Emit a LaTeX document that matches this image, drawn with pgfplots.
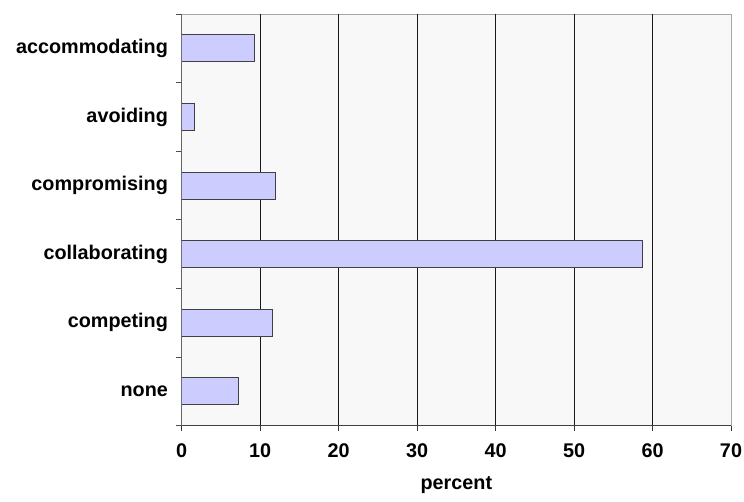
\documentclass[border=0pt]{standalone}
\usepackage{fontspec}
\setmainfont{Liberation Sans}
\usepackage{pgfplots}
\pgfplotsset{compat=1.18}
\definecolor{barfill}{HTML}{CCCCFF}
\definecolor{bgc}{HTML}{F8F8F8}
\begin{document}
\fontsize{19.8}{23}\selectfont
\begin{tikzpicture}
\useasboundingbox (-181.7pt,-75.3pt) rectangle (562.3pt,425.7pt);
\begin{axis}[
  at={(0,0)}, anchor=south west, scale only axis,
  width=549.3pt, height=411.7pt,
  xbar, bar width=27pt,
  enlargelimits=false,
  xmin=0, xmax=70, ymin=-0.5, ymax=5.5,
  xtick={0,10,...,70},
  minor xtick={10,20,...,60},
  xminorgrids,
  minor x grid style={black!90, line width=0.9pt},
  minor x tick style={draw=none},
  ytick={0,...,5},
  yticklabels={none,competing,collaborating,compromising,avoiding,accommodating},
  minor ytick={-0.5,0.5,...,5.5},
  major y tick style={draw=none},
  minor y tick style={black!70, line width=0.9pt},
  minor tick length=6pt,
  major tick length=5pt,
  tick align=outside,
  major x tick style={black!80, line width=0.9pt},
  axis x line*=bottom, axis y line*=left,
  x axis line style={-, black!75, line width=1pt},
  y axis line style={-, black!60, line width=1pt},
  axis background/.style={fill=bgc, draw=black!35, line width=0.8pt},
  ticklabel style={font=\bfseries},
  yticklabel style={xshift=-2pt},
  xticklabel style={yshift=-6pt},
  /pgf/number format/assume math mode=true,
  xlabel={\bfseries percent},
  xlabel style={at={(axis description cs:0.5,0)}, anchor=center, yshift=-59pt},
]
\addplot[fill=barfill, draw=black!75, line width=0.9pt] coordinates {
  (7.2,0) (11.6,1) (58.7,2) (12.0,3) (1.6,4) (9.25,5)
};
\end{axis}
\end{tikzpicture}
\end{document}
